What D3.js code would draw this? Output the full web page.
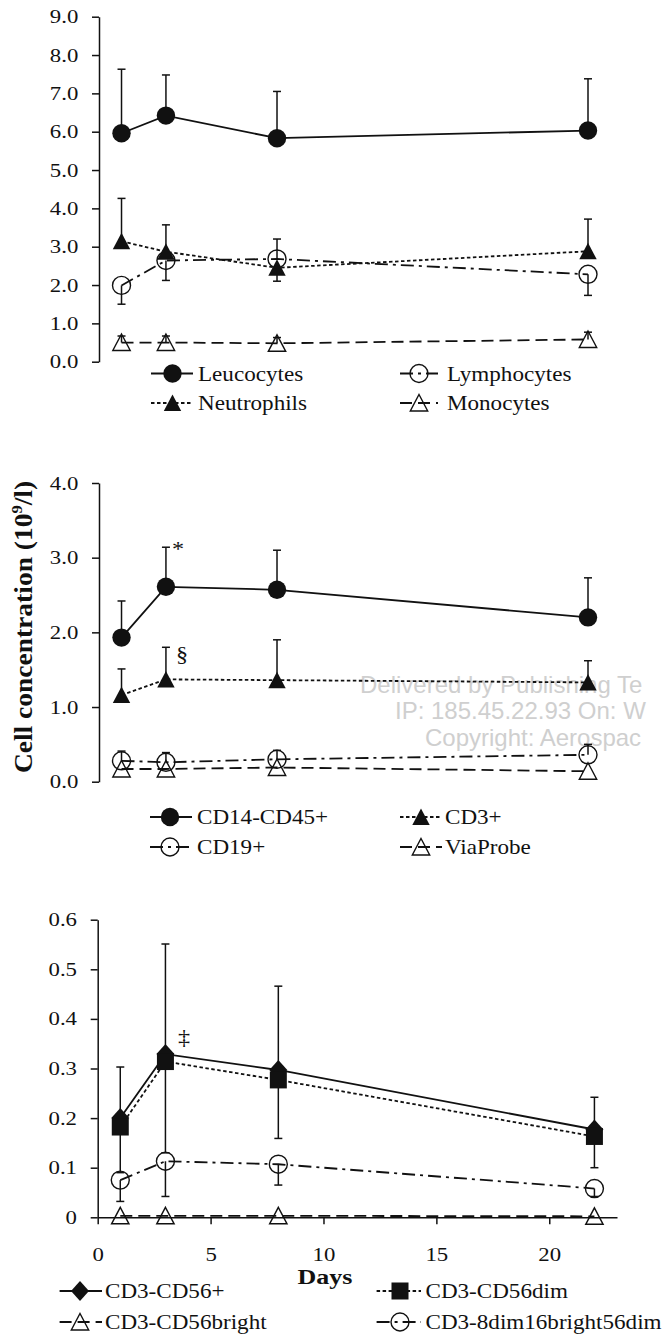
<!DOCTYPE html>
<html>
<head>
<meta charset="utf-8">
<script src="https://cdn.jsdelivr.net/npm/d3@7"></script>
<style>
  body { margin: 0; background: #fff; }
  svg { display: block; }
</style>
</head>
<body>
<svg id="chart" width="663" height="1334"></svg>
<script>
const days = [1, 3, 8, 22];

// top panel (10^9/l)
const leucocytes = [5.96, 6.42, 5.83, 6.03];
const leucocytesErr = [7.63, 7.48, 7.05, 7.38];
const neutrophils = [3.14, 2.87, 2.45, 2.88];
const neutrophilsErr = [4.26, 3.57, 2.10, 3.72];
const lymphocytes = [1.99, 2.64, 2.68, 2.28];
const lymphocytesErr = [1.50, 2.12, 3.20, 1.73];
const monocytes = [0.50, 0.50, 0.48, 0.58];
const monocytesErr = [0.67, 0.67, 0.63, 0.77];
const topTicks = [0, 1, 2, 3, 4, 5, 6, 7, 8, 9];

// middle panel
const cd14 = [1.93, 2.61, 2.57, 2.20];
const cd14Err = [2.42, 3.14, 3.10, 2.73];
const cd3 = [1.16, 1.37, 1.36, 1.33];
const cd3Err = [1.51, 1.80, 1.90, 1.62];
const cd19 = [0.28, 0.26, 0.30, 0.36];
const cd19Err = [0.41, 0.39, 0.42, 0.50];
const viaProbe = [0.17, 0.17, 0.19, 0.14];
const midTicks = [0, 1, 2, 3, 4];

// bottom panel
const nk = [0.200, 0.329, 0.297, 0.177];
const nkErr = [0.303, 0.551, 0.466, 0.242];
const nkDim = [0.182, 0.314, 0.277, 0.163];
const nkDimErr = [0.090, 0.130, 0.159, 0.100];
const nkBright = [0.003, 0.003, 0.003, 0.002];
const nk8dim = [0.075, 0.113, 0.107, 0.058];
const nk8dimErr = [0.032, 0.042, 0.065, 0.042];
const botTicks = [0, 0.1, 0.2, 0.3, 0.4, 0.5, 0.6];
const dayTicks = [0, 5, 10, 15, 20];

const INK = "#111";
const SERIF = "'Liberation Serif', 'Times New Roman', serif";
const DASH = { solid: null, dotted: "3.5,2.5", dashdot: "13,5,3,5", dashed: "12,6" };

const svg = d3.select("#chart");

// faint publisher watermark behind the middle panel (only the visible part)
const wm = svg.append("g")
  .attr("fill", "#cfcfcf")
  .attr("font-family", "'Liberation Sans', Arial, sans-serif")
  .attr("font-size", "24px");
[["Delivered by Publishing Te", 360, 693],
 ["IP: 185.45.22.93 On: W", 395, 719],
 ["Copyright: Aerospac", 425, 746]].forEach(([t, x, y]) => {
  wm.append("text").attr("x", x).attr("y", y).text(t);
});

function stretchText(g, x, y, str, size, sx, anchor, weight) {
  return g.append("text")
    .attr("transform", `translate(${x},${y}) scale(${sx},1)`)
    .attr("text-anchor", anchor || "start")
    .attr("font-family", SERIF)
    .attr("font-size", size + "px")
    .attr("font-weight", weight || "normal")
    .attr("fill", INK)
    .text(str);
}

function drawMarker(g, type, cx, cy) {
  const m = g.append("g").attr("transform", `translate(${cx},${cy})`);
  if (type === "circle") {
    m.append("circle").attr("r", 9.2).attr("fill", INK);
  } else if (type === "ocircle") {
    m.append("circle").attr("r", 9).attr("fill", "none").attr("stroke", INK).attr("stroke-width", 1.4);
  } else if (type === "triangle") {
    m.append("path").attr("d", "M0,-8.5L8.7,8L-8.7,8Z").attr("fill", INK);
  } else if (type === "otriangle") {
    m.append("path").attr("d", "M0,-8.5L8.7,8L-8.7,8Z").attr("fill", "none")
      .attr("stroke", INK).attr("stroke-width", 1.4);
  } else if (type === "diamond") {
    m.append("path").attr("d", "M0,-10L9,0L0,10L-9,0Z").attr("fill", INK);
  } else if (type === "square") {
    m.append("rect").attr("x", -8.5).attr("y", -8.5).attr("width", 17).attr("height", 17).attr("fill", INK);
  }
}

const xTop = d3.scaleLinear().domain([0, 22]).range([99.3, 588]);
const xBot = d3.scaleLinear().domain([0, 23]).range([97.7, 617]);

const panels = [
  {
    x: xTop, axisX: 99,
    y: d3.scaleLinear().domain([0, 9]).range([361.7, 16.7]),
    ticks: topTicks, fmt: d => d.toFixed(1),
    series: [
      { name: "Leucocytes", values: leucocytes, err: leucocytesErr, dash: "solid", marker: "circle" },
      { name: "Lymphocytes", values: lymphocytes, err: lymphocytesErr, dash: "dashdot", marker: "ocircle" },
      { name: "Neutrophils", values: neutrophils, err: neutrophilsErr, dash: "dotted", marker: "triangle" },
      { name: "Monocytes", values: monocytes, err: monocytesErr, dash: "dashed", marker: "otriangle" }
    ],
    legendCols: [[151, 193, 172.5, 198], [400, 438, 419, 447]],
    legendRows: [373.5, 403]
  },
  {
    x: xTop, axisX: 99,
    y: d3.scaleLinear().domain([0, 4]).range([781.7, 483]),
    ticks: midTicks, fmt: d => d.toFixed(1),
    series: [
      { name: "CD14-CD45+", values: cd14, err: cd14Err, dash: "solid", marker: "circle" },
      { name: "CD3+", values: cd3, err: cd3Err, dash: "dotted", marker: "triangle" },
      { name: "CD19+", values: cd19, err: cd19Err, dash: "dashdot", marker: "ocircle" },
      { name: "ViaProbe", values: viaProbe, err: null, dash: "dashed", marker: "otriangle" }
    ],
    legendCols: [[150, 192, 170, 197], [400, 442, 421, 445]],
    legendRows: [817, 847]
  },
  {
    x: xBot, axisX: 97.7, xAxis: true,
    y: d3.scaleLinear().domain([0, 0.6]).range([1217.3, 919.7]),
    ticks: botTicks, fmt: d => d === 0 ? "0" : d.toFixed(1),
    series: [
      { name: "CD3-CD56+", values: nk, err: nkErr, dash: "solid", marker: "diamond" },
      { name: "CD3-CD56dim", values: nkDim, err: nkDimErr, dash: "dotted", marker: "square" },
      { name: "CD3-CD56bright", values: nkBright, err: null, dash: "dashed", marker: "otriangle" },
      { name: "CD3-8dim16bright56dim", values: nk8dim, err: nk8dimErr, dash: "dashdot", marker: "ocircle" }
    ],
    legendCols: [[59.6, 102, 80, 105], [376.6, 421, 400, 425.5]],
    legendRows: [1291, 1322]
  }
];

panels.forEach(p => {
  const g = svg.append("g");
  const { x, y } = p;

  // Y axis
  const ya = g.append("g")
    .attr("transform", `translate(${p.axisX},0)`)
    .call(d3.axisLeft(y).tickValues(p.ticks).tickFormat(p.fmt).tickSize(7).tickSizeOuter(0));
  ya.select(".domain").attr("stroke", INK).attr("stroke-width", 1.5);
  ya.selectAll(".tick line").attr("stroke", INK).attr("stroke-width", 1.5);
  ya.selectAll(".tick text")
    .attr("x", -20.7 / 1.2)
    .attr("transform", "scale(1.2,1)")
    .attr("font-family", SERIF).attr("font-size", "19px").attr("fill", INK);

  // X axis only on the bottom panel
  if (p.xAxis) {
    const xa = g.append("g")
      .attr("transform", `translate(0,${y(0)})`)
      .call(d3.axisBottom(x).tickValues(dayTicks).tickSize(7).tickPadding(23.5).tickSizeOuter(0));
    xa.select(".domain").attr("stroke", INK).attr("stroke-width", 1.5);
    xa.selectAll(".tick line").attr("stroke", INK).attr("stroke-width", 1.5);
    xa.selectAll(".tick text")
      .attr("transform", "scale(1.2,1)")
      .attr("font-family", SERIF).attr("font-size", "19px").attr("fill", INK);
  }

  // error bars (one-sided, ending at the recorded cap value)
  p.series.forEach(s => {
    if (!s.err) return;
    s.err.forEach((e, i) => {
      const cx = x(days[i]);
      g.append("line").attr("x1", cx).attr("x2", cx)
        .attr("y1", y(s.values[i])).attr("y2", y(e))
        .attr("stroke", INK).attr("stroke-width", 1.5);
      g.append("line").attr("x1", cx - 4).attr("x2", cx + 4)
        .attr("y1", y(e)).attr("y2", y(e))
        .attr("stroke", INK).attr("stroke-width", 1.5);
    });
  });

  // series lines
  const line = d3.line().x((d, i) => x(days[i])).y(d => y(d));
  p.series.forEach(s => {
    g.append("path")
      .datum(s.values)
      .attr("d", line)
      .attr("fill", "none")
      .attr("stroke", INK)
      .attr("stroke-width", 1.8)
      .attr("stroke-dasharray", DASH[s.dash]);
  });

  // markers
  p.series.forEach(s => {
    s.values.forEach((v, i) => drawMarker(g, s.marker, x(days[i]), y(v)));
  });

  // legend, two columns
  p.series.forEach((s, k) => {
    const col = p.legendCols[k % 2];
    const cy = p.legendRows[Math.floor(k / 2)];
    g.append("line")
      .attr("x1", col[0]).attr("x2", col[1])
      .attr("y1", cy).attr("y2", cy)
      .attr("stroke", INK).attr("stroke-width", 1.8)
      .attr("stroke-dasharray", DASH[s.dash]);
    drawMarker(g, s.marker, col[2], cy);
    stretchText(g, col[3], cy + 7, s.name, 21, 1.1);
  });
});

// significance marks
const annot = svg.append("g");
stretchText(annot, 178, 556, "*", 22, 1.1, "middle");
stretchText(annot, 182, 661, "§", 22, 1.1, "middle");
stretchText(annot, 184, 1044, "‡", 22, 1.1, "middle");

// axis titles
stretchText(svg, 325, 1284, "Days", 20, 1.3, "middle", "bold");

const yt = svg.append("text")
  .attr("transform", "translate(32,627) rotate(-90) scale(1.1,1)")
  .attr("text-anchor", "middle")
  .attr("font-family", SERIF)
  .attr("font-size", "25px")
  .attr("font-weight", "bold")
  .attr("fill", INK);
yt.append("tspan").text("Cell concentration (10");
yt.append("tspan").attr("font-size", "15px").attr("dy", -10).text("9");
yt.append("tspan").attr("dy", 10).text("/l)");
</script>
</body>
</html>
